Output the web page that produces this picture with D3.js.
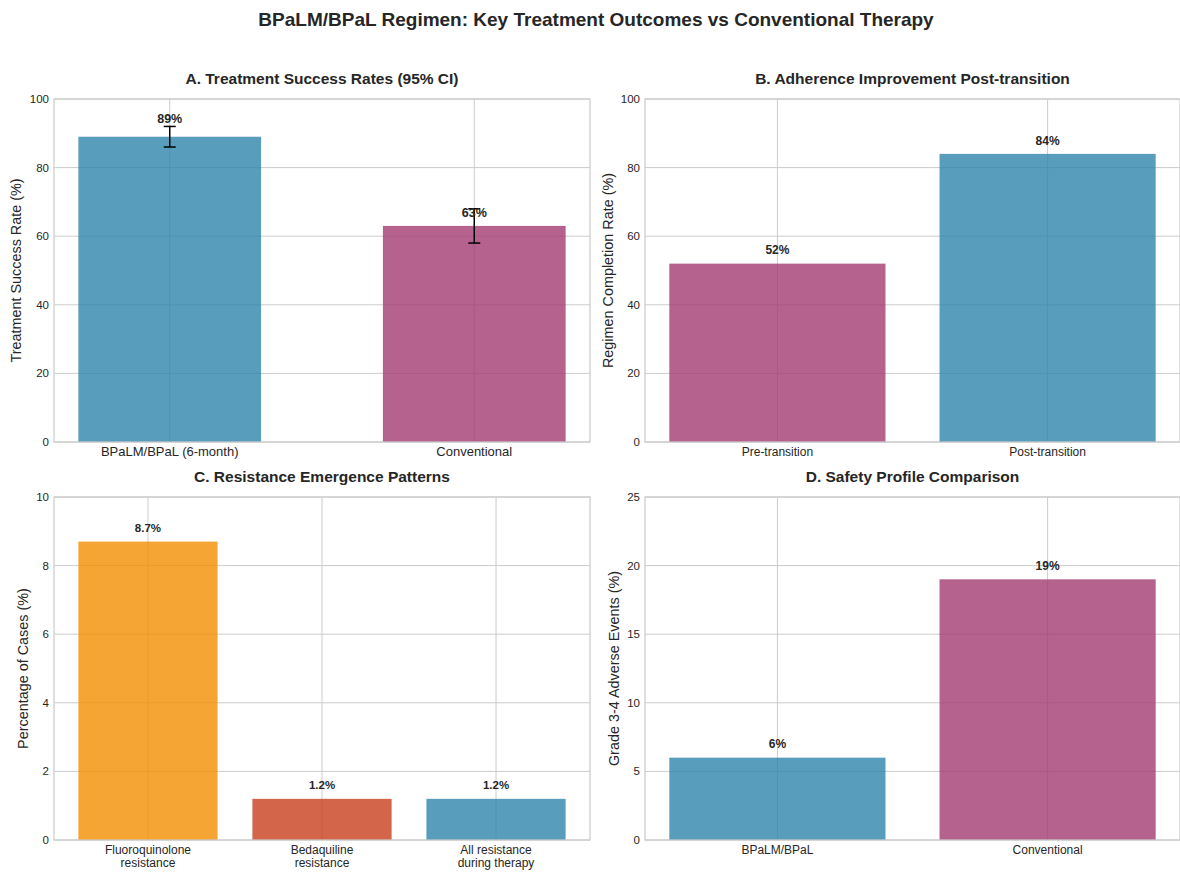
<!DOCTYPE html>
<html>
<head>
<meta charset="utf-8">
<script src="https://cdn.jsdelivr.net/npm/d3@7"></script>
<style>
  html, body { margin: 0; padding: 0; background: #fff; }
  svg { display: block; font-family: "Liberation Sans", Arial, sans-serif; }
</style>
</head>
<body>
<svg id="chart" width="1180" height="872"></svg>
<script>
// ---- data ----
const successCategories = ["BPaLM/BPaL (6-month)", "Conventional"];
const successRates = [89, 63];
const successCI = [3, 5];

const adherenceCategories = ["Pre-transition", "Post-transition"];
const adherenceRates = [52, 84];

const resistanceCategories = [["Fluoroquinolone", "resistance"], ["Bedaquiline", "resistance"], ["All resistance", "during therapy"]];
const resistanceRates = [8.7, 1.2, 1.2];

const safetyCategories = ["BPaLM/BPaL", "Conventional"];
const adverseRates = [6, 19];

// ---- palette ----
const BLUE = "#2E86AB", MAGENTA = "#A23B72", ORANGE = "#F18F01", RED = "#C73E1D";
const TEXT = "#262626", GRID = "#cccccc";

const svg = d3.select("#chart");

svg.append("text")
  .attr("x", 596).attr("y", 26)
  .attr("text-anchor", "middle")
  .attr("font-size", 19).attr("font-weight", "bold").attr("fill", TEXT)
  .text("BPaLM/BPaL Regimen: Key Treatment Outcomes vs Conventional Therapy");

function panel(opts) {
  const { left, top, right, bottom, title, cats, values, colors, yMax, yStep,
          barWidth, yLabel, yLabelX, tickFont, valueFmt, labelLift, valueFont, valueWeight, errors } = opts;
  const n = values.length;
  const span = (n - 1) + barWidth;
  const margin = 0.05 * span;
  const x = d3.scaleLinear().domain([-barWidth / 2 - margin, n - 1 + barWidth / 2 + margin]).range([left, right]);
  const y = d3.scaleLinear().domain([0, yMax]).range([bottom, top]);
  const g = svg.append("g");

  // grid
  const yTicks = d3.range(0, yMax + yStep / 2, yStep);
  g.append("g").selectAll("line").data(yTicks).join("line")
    .attr("x1", left).attr("x2", right)
    .attr("y1", d => y(d)).attr("y2", d => y(d))
    .attr("stroke", GRID).attr("stroke-width", 1);
  g.append("g").selectAll("line").data(d3.range(n)).join("line")
    .attr("x1", d => x(d)).attr("x2", d => x(d))
    .attr("y1", top).attr("y2", bottom)
    .attr("stroke", GRID).attr("stroke-width", 1);

  // bars
  g.append("g").selectAll("rect").data(values).join("rect")
    .attr("x", (d, i) => x(i - barWidth / 2))
    .attr("width", (d, i) => x(i + barWidth / 2) - x(i - barWidth / 2))
    .attr("y", d => y(d))
    .attr("height", d => y(0) - y(d))
    .attr("fill", (d, i) => colors[i]).attr("fill-opacity", 0.8);

  // error bars
  if (errors) {
    const eg = g.append("g").attr("stroke", "#000").attr("stroke-width", 1.5);
    values.forEach((v, i) => {
      const cx = x(i);
      eg.append("line").attr("x1", cx).attr("x2", cx).attr("y1", y(v - errors[i])).attr("y2", y(v + errors[i]));
      eg.append("line").attr("x1", cx - 6).attr("x2", cx + 6).attr("y1", y(v - errors[i])).attr("y2", y(v - errors[i]));
      eg.append("line").attr("x1", cx - 6).attr("x2", cx + 6).attr("y1", y(v + errors[i])).attr("y2", y(v + errors[i]));
    });
  }

  // frame
  g.append("rect").attr("x", left).attr("y", top)
    .attr("width", right - left).attr("height", bottom - top)
    .attr("fill", "none").attr("stroke", GRID).attr("stroke-width", 1.25);

  // value labels
  g.append("g").selectAll("text").data(values).join("text")
    .attr("x", (d, i) => x(i))
    .attr("y", (d, i) => y(d + labelLift[i]) - 2.5)
    .attr("text-anchor", "middle")
    .attr("font-size", valueFont).attr("font-weight", valueWeight).attr("fill", TEXT)
    .text(d => valueFmt(d));

  // y axis tick labels
  g.append("g").selectAll("text").data(yTicks).join("text")
    .attr("x", left - 5).attr("y", d => y(d) + 4)
    .attr("text-anchor", "end").attr("font-size", 11.5).attr("fill", TEXT)
    .text(d => d);

  // x axis tick labels
  const xl = g.append("g").selectAll("text").data(cats).join("text")
    .attr("x", (d, i) => x(i)).attr("y", bottom + 13.5)
    .attr("text-anchor", "middle").attr("font-size", tickFont).attr("fill", TEXT);
  xl.each(function(d) {
    const lines = Array.isArray(d) ? d : [d];
    const t = d3.select(this);
    lines.forEach((ln, k) => t.append("tspan").attr("x", t.attr("x")).attr("dy", k === 0 ? 0 : 13).text(ln));
  });

  // axis label
  g.append("text")
    .attr("transform", `translate(${yLabelX},${(top + bottom) / 2}) rotate(-90)`)
    .attr("text-anchor", "middle").attr("dominant-baseline", "central")
    .attr("font-size", 14.4).attr("fill", TEXT)
    .text(yLabel);

  // title
  g.append("text")
    .attr("x", (left + right) / 2).attr("y", top - 15)
    .attr("text-anchor", "middle").attr("font-size", 15.5).attr("font-weight", "bold").attr("fill", TEXT)
    .text(title);
}

panel({
  left: 54, top: 99, right: 590, bottom: 442,
  title: "A. Treatment Success Rates (95% CI)",
  cats: successCategories, values: successRates, colors: [BLUE, MAGENTA], errors: successCI,
  yMax: 100, yStep: 20, barWidth: 0.6,
  yLabel: "Treatment Success Rate (%)", yLabelX: 16, tickFont: 13,
  valueFmt: d => d + "%", labelLift: [3.3, 2], valueFont: 12.5, valueWeight: "bold"
});

panel({
  left: 645, top: 99, right: 1180, bottom: 442,
  title: "B. Adherence Improvement Post-transition",
  cats: adherenceCategories, values: adherenceRates, colors: [MAGENTA, BLUE],
  yMax: 100, yStep: 20, barWidth: 0.8,
  yLabel: "Regimen Completion Rate (%)", yLabelX: 608, tickFont: 12,
  valueFmt: d => d + "%", labelLift: [2, 2], valueFont: 12, valueWeight: "bold"
});

panel({
  left: 54, top: 497, right: 590, bottom: 840,
  title: "C. Resistance Emergence Patterns",
  cats: resistanceCategories, values: resistanceRates, colors: [ORANGE, RED, BLUE],
  yMax: 10, yStep: 2, barWidth: 0.8,
  yLabel: "Percentage of Cases (%)", yLabelX: 23, tickFont: 12,
  valueFmt: d => d.toFixed(1) + "%", labelLift: [0.2, 0.2, 0.2], valueFont: 11.5, valueWeight: "bold"
});

panel({
  left: 645, top: 497, right: 1180, bottom: 840,
  title: "D. Safety Profile Comparison",
  cats: safetyCategories, values: adverseRates, colors: [BLUE, MAGENTA],
  yMax: 25, yStep: 5, barWidth: 0.8,
  yLabel: "Grade 3-4 Adverse Events (%)", yLabelX: 614, tickFont: 12,
  valueFmt: d => d + "%", labelLift: [0.5, 0.5], valueFont: 12, valueWeight: "bold"
});
</script>
</body>
</html>
